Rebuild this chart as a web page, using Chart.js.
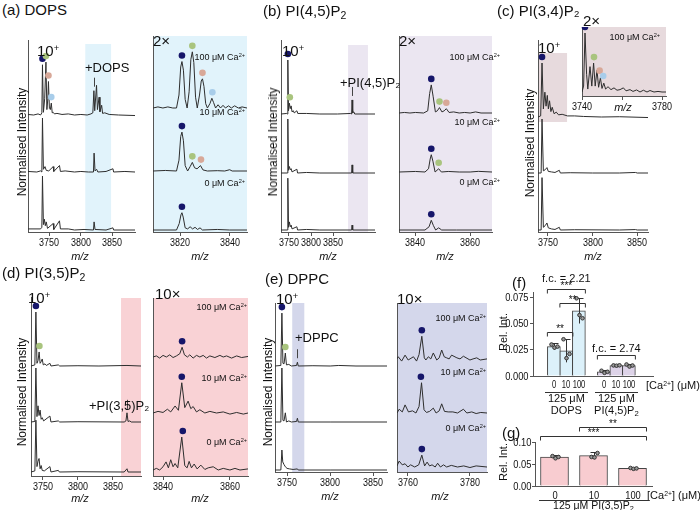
<!DOCTYPE html>
<html>
<head>
<meta charset="utf-8">
<script src="https://cdn.jsdelivr.net/npm/chart.js@4.4.0/dist/chart.umd.min.js"></script>
<style>
  body { margin: 0; background: #fff; }
  #fig { position: relative; width: 700px; height: 510px; overflow: hidden; font-family: "Liberation Sans", Arial, sans-serif; color: #111; }
  #fig canvas { position: absolute; }
  .t { position: absolute; white-space: nowrap; line-height: 1; }
  .t sup { font-size: 0.62em; vertical-align: 0.5em; line-height: 0; }
  .t sub { font-size: 0.7em; vertical-align: -0.3em; line-height: 0; }
  .it { font-style: italic; }
</style>
</head>
<body>
<div id="fig"></div>
<script>
// ---- spectra: [m/z, normalised intensity] ----
// (a) DOPS, full range
const aFull100 = [[3716,0.01],[3725,0],[3732,0.02],[3736,0],[3738,0.04],[3739,0.93],[3740.5,0.05],[3742.5,0.3],[3744.5,0.98],[3746,0.1],[3747.5,0.3],[3748.5,0.62],[3750,0.12],[3751.5,0.1],[3753,0.22],[3754.5,0.04],[3756,0.05],[3758,0.02],[3762,0.03],[3770,0.01],[3780,0.02],[3790,0],[3800,0.01],[3810,0],[3816,0.02],[3819,0.04],[3820.7,0.45],[3822,0.08],[3824.9,0.55],[3826.3,0.1],[3829,0.33],[3830.3,0.06],[3833,0.18],[3834.5,0.03],[3838,0.04],[3845,0.01],[3860,0],[3886,-0.01]];
const aFull10 = [[3716,0.01],[3730,0],[3736,0.02],[3738,0],[3739,1.0],[3740.5,0.05],[3743,0.1],[3745,0.03],[3749,0.02],[3756,0.1],[3757,0.01],[3766,0.12],[3767.5,0.01],[3775,0.02],[3790,0],[3800,0.01],[3812,0],[3820,0],[3821,0.35],[3822.5,0.02],[3825,0.05],[3827,0],[3840,0.01],[3851,0.06],[3852,0],[3870,0.01],[3886,0]];
const aFull0 = [[3716,0.02],[3736,0.02],[3738,0.05],[3739,1.0],[3740.5,0.1],[3742,0.2],[3743.5,0.08],[3745,0.15],[3747,0.03],[3756,0.12],[3757,0.01],[3766,0.17],[3767.5,0.02],[3780,0.02],[3790,0],[3805,0.01],[3820,0],[3821,0.15],[3822.5,0.01],[3840,0],[3851,0.04],[3852,0],[3886,0]];
// (a) DOPS, 2x zoom
const aZoom100 = [[3809,0],[3811,0.01],[3813,0],[3815,0.01],[3817,0],[3818.5,0],[3819.5,0.12],[3820.2,0.38],[3820.7,0.43],[3821.3,0.35],[3822,0.08],[3822.8,0],[3823.6,0.15],[3824.3,0.45],[3824.9,0.52],[3825.5,0.42],[3826.2,0.1],[3826.9,0],[3827.8,0.12],[3828.5,0.25],[3829,0.27],[3829.6,0.2],[3830.3,0.04],[3831,0],[3832,0.04],[3832.8,0.09],[3833.5,0.05],[3834.3,0],[3835.3,0.03],[3836.3,0],[3837.3,0.025],[3838.3,0],[3839.5,0.02],[3840.7,0],[3842,0.02],[3843.5,0],[3845,0.01],[3847,0]];
const aZoom10 = [[3809,0],[3814,0.005],[3818.5,0],[3819.5,0.1],[3820.2,0.32],[3820.7,0.36],[3821.3,0.28],[3822,0.05],[3823,0],[3824,0.04],[3824.9,0.08],[3825.8,0.03],[3826.8,0.02],[3828.2,0.05],[3829.2,0.01],[3831,0],[3835,0.003],[3838,0],[3840,0.012],[3841,0],[3847,0]];
const aZoom0 = [[3809,0],[3818.5,0],[3819.6,0.06],[3820.3,0.14],[3820.7,0.16],[3821.2,0.12],[3822,0.02],[3823,0.01],[3824,0.03],[3825,0.01],[3826,0.025],[3827,0.005],[3828,0.02],[3829,0],[3835,0.005],[3840,0],[3847,0]];
// (b) PI(4,5)P2
const bFull100 = [[3732,0],[3745,0.01],[3746.5,0],[3747.5,1.0],[3749,0.06],[3751,0.2],[3753,0.1],[3755,0.15],[3757,0.04],[3760,0.06],[3762,0.02],[3768,0.06],[3770,0.01],[3790,0.01],[3820,0],[3860,0],[3890,0.01],[3892,0],[3893,0.26],[3894.5,0.02],[3897,0.04],[3899,0],[3945,0]];
const bFull10 = [[3732,0],[3746.5,0],[3747.5,1.0],[3749,0.05],[3751,0.12],[3753,0.06],[3755,0.08],[3757,0.02],[3768,0.07],[3769.5,0],[3790,0.01],[3820,0],[3892,0],[3893,0.15],[3894.5,0],[3945,0]];
const bFull0 = [[3732,0],[3746.5,0],[3747.5,0.96],[3749,0.05],[3751,0.15],[3753,0.06],[3755,0.09],[3757,0.02],[3768,0.06],[3769.5,0],[3790,0.01],[3820,0],[3892,0],[3893,0.09],[3894.5,0],[3945,0]];
const bZoom100 = [[3834,0],[3836,0.005],[3838,0],[3840,0.005],[3843,0],[3844.5,0.02],[3845.2,0.18],[3845.8,0.26],[3846.5,0.15],[3847.3,0.01],[3848,0.02],[3848.8,0.05],[3849.7,0.01],[3850.5,0.02],[3851.3,0.04],[3852.3,0.005],[3854,0.01],[3856,0],[3858,0.005],[3860,0],[3862,0.01],[3864,0],[3868,0]];
const bZoom10 = [[3834,0],[3840,0.005],[3843.5,0],[3844.8,0.03],[3845.4,0.12],[3845.8,0.16],[3846.4,0.1],[3847.2,0],[3848.5,0.03],[3849.5,0],[3852,0.005],[3856,0],[3860,0],[3863,0.006],[3868,0]];
const bZoom0 = [[3834,0],[3843.5,0],[3845,0.03],[3845.8,0.09],[3846.6,0.04],[3847.4,0],[3848.5,0.02],[3849.6,0],[3855,0],[3868,0]];
// (c) PI(3,4)P2
const cFull100 = [[3739,0],[3742,0.02],[3743.5,1.0],[3745,0.15],[3746.7,0.46],[3748,0.2],[3749.4,0.4],[3750.6,0.15],[3751.9,0.3],[3753.4,0.1],[3754.9,0.18],[3757,0.06],[3759.4,0.09],[3762,0.04],[3766,0.05],[3772,0.02],[3780,0.02],[3790,0.01],[3810,0],[3830,0.005],[3862,-0.01]];
const cFull10 = [[3739,0],[3742.5,0],[3743.5,1.0],[3745,0.04],[3747,0.06],[3749,0.1],[3750.5,0.03],[3754,0.02],[3758,0.01],[3762.8,0.05],[3764,0],[3775,0.005],[3800,0],[3830,0],[3848,0.01],[3850,0],[3862,0]];
const cFull0 = [[3739,0],[3742.5,0],[3743.5,0.97],[3745,0.05],[3747,0.08],[3749,0.13],[3750.5,0.04],[3754,0.02],[3758,0.01],[3762.8,0.05],[3764,0],[3780,0.005],[3830,0],[3848,0.008],[3850,0],[3862,0]];
const cInset100 = [[3740,0],[3740.8,0.1],[3741.5,1.0],[3742.3,0.3],[3742.9,0.05],[3744,0.43],[3744.9,0.1],[3745.8,0.49],[3746.6,0.1],[3747.5,0.37],[3748.3,0.08],[3749.2,0.24],[3750,0.06],[3750.9,0.15],[3751.8,0.05],[3753,0.09],[3754.5,0.04],[3756,0.07],[3757.5,0.03],[3759,0.04],[3760.7,0.07],[3762,0.02],[3764,0.04],[3765.5,0.01],[3767.3,0.035],[3769,0],[3770.7,0.03],[3772.5,0],[3774,0.025],[3776,0],[3778,0.01],[3780,0],[3782,0]];
// (d) PI(3,5)P2
const dFull100 = [[3733,0],[3738.5,0.02],[3740,1.0],[3741.5,0.05],[3743,0.1],[3744.6,0.26],[3746,0.05],[3747.5,0.08],[3749,0.13],[3750.5,0.02],[3753,0.04],[3755,0.01],[3760,0.05],[3761.5,0],[3772,0.02],[3774,0],[3800,0.005],[3830,0],[3870,0.01],[3890,0]];
const dFull10 = [[3733,0],[3738.5,0.01],[3740,1.0],[3741.5,0.1],[3743,0.3],[3744.5,0.12],[3746,0.22],[3747.5,0.05],[3749,0.08],[3751,0.02],[3760,0.11],[3761.5,0],[3772,0.02],[3774,0],[3800,0.005],[3866,0],[3868.5,0.02],[3870,0.17],[3871.5,0.01],[3874,0.02],[3876,0],[3890,0]];
const dFull0 = [[3733,0],[3738.5,0.02],[3740,0.96],[3741.5,0.1],[3743,0.2],[3744.5,0.25],[3746,0.06],[3747.5,0.12],[3749,0.03],[3752,0.02],[3760,0.1],[3761.5,0],[3772,0.03],[3773.5,0],[3800,0.005],[3866,0],[3870,0.06],[3871.5,0],[3890,0]];
const dZoom100 = [[3837,0],[3838,0.002],[3839,-0.002],[3840,0.003],[3841,0],[3842,0.004],[3843,-0.001],[3844,0.002],[3845,0.006],[3845.7,0.018],[3846.4,0.004],[3847.3,0],[3848,0.004],[3849,-0.002],[3850,0.003],[3851,0],[3852,0.003],[3853,-0.002],[3854,0.002],[3855.5,-0.001],[3857,0.003],[3858,0],[3859,0.002],[3860.5,-0.002],[3862,0.002],[3863.5,-0.001],[3865.4,0.001]];
const dZoom10 = [[3837,0],[3838.5,0.003],[3840,0.001],[3841.3,0.007],[3842.3,0.002],[3843.6,0.013],[3844.6,0.005],[3845.6,0.056],[3846.5,0.01],[3847.5,0.022],[3848.3,0.008],[3849,0.012],[3850,0.002],[3851,0.006],[3852.5,0],[3854,0.003],[3856,0],[3858,0.002],[3860,-0.002],[3862,0.001],[3864,-0.002],[3865.4,0]];
const dZoom0 = [[3837,0],[3838,0.003],[3839,0],[3840,0.006],[3840.9,0.015],[3841.6,0.004],[3842.3,0.019],[3843,0.006],[3843.6,0.012],[3844.4,0.004],[3845.6,0.061],[3846.5,0.008],[3847.2,0.004],[3847.8,0.016],[3848.5,0.004],[3849.3,0.011],[3850.2,0.002],[3851.3,0.009],[3852.5,0.001],[3853.5,0.004],[3855,0.006],[3856.5,0],[3858,0.003],[3860,0],[3861.5,0.003],[3863,0],[3865.4,0.002]];
// (e) DPPC
const eFull100 = [[3736,0],[3742.8,0.01],[3744,0.98],[3745.2,0.05],[3746.5,0.04],[3748,0.24],[3749.3,0.02],[3752,0.03],[3755,0],[3761,0.01],[3762,0.07],[3763,0],[3780,0.005],[3800,0],[3810,0.01],[3830,0],[3866,0]];
const eFull10 = [[3736,0],[3742.8,0],[3744,1.0],[3745.2,0.03],[3746.5,0.02],[3748,0.17],[3749.3,0],[3752,0.02],[3755,0],[3761,0.01],[3762,0.07],[3763,0],[3800,0],[3866,0]];
const eFull0 = [[3736,0],[3742.8,0],[3744,0.37],[3745,0.15],[3746.5,0.1],[3748,0.06],[3750,0.03],[3753,0.02],[3757,0.01],[3762,0.02],[3763,0],[3800,0],[3866,0]];
const eZoom100 = [[3756.5,0.002],[3756.9,0.006],[3758,-0.002],[3759.1,0.009],[3760.1,0],[3761.8,0.006],[3762.8,-0.002],[3763.6,0.01],[3764.5,0.044],[3765.3,0.004],[3765.8,0],[3766.6,0.006],[3767.4,0.002],[3768.2,0.013],[3769.3,0],[3770.1,0.004],[3770.9,0.0185],[3771.7,0.006],[3772.5,0.004],[3773.3,0.002],[3774.1,0.009],[3775.8,0.004],[3776.8,0.002],[3777.9,0.007],[3780,0],[3781,0.002],[3782.2,0.004],[3783.3,0],[3785.5,0.002]];
const eZoom10 = [[3756.5,0],[3757.2,0.007],[3758.2,0.002],[3759.1,0.015],[3760.2,0.002],[3761.5,0.004],[3762.6,0],[3763.6,0.012],[3764.4,0.056],[3765.2,0.006],[3766,0.001],[3767,0.003],[3768.2,0.009],[3769.1,0],[3770.1,0.004],[3770.9,0.017],[3771.8,0.003],[3773,0.002],[3774.5,0.002],[3776,0],[3777.9,0.007],[3779,0],[3780.6,0.002],[3782,-0.001],[3783.5,0.001],[3785.5,0]];
const eZoom0 = [[3756.5,0.002],[3757.2,0.011],[3758.2,0.004],[3759.1,0.006],[3760,0],[3760.9,0.004],[3762.2,0],[3763.5,0.004],[3764.5,0.022],[3765.4,0.002],[3766.2,0.009],[3767,0.002],[3767.8,0.004],[3768.8,0],[3769.6,0.007],[3770.5,0],[3771.5,0.004],[3772.5,0],[3774,0.003],[3776,0],[3778,0.002],[3780,-0.001],[3782,0.002],[3785.5,0]];

// bound species marked by dots: [trace, m/z, peak level, species]
const aFullDots = [[0,3739,0.93,'n'],[0,3744.5,0.98,'g'],[0,3748.5,0.62,'p'],[0,3753,0.22,'b']];
const aZoomDots = [[0,3820.7,0.43,'n'],[0,3824.9,0.52,'g'],[0,3829,0.27,'p'],[0,3833,0.09,'b'],[1,3820.7,0.36,'n'],[1,3824.9,0.08,'g'],[1,3828.4,0.05,'p'],[2,3820.7,0.16,'n']];
const bFullDots = [[0,3747.5,1.0,'n'],[0,3752,0.2,'g']];
const bZoomDots = [[0,3845.8,0.26,'n'],[0,3848.8,0.05,'g'],[0,3851.3,0.04,'p'],[1,3845.8,0.16,'n'],[1,3848.5,0.03,'g'],[2,3845.8,0.09,'n']];
const cFullDots = [[0,3743.5,1.0,'n']];
const cInsetDots = [[0,3741.5,1.0,'n'],[0,3746,0.49,'g'],[0,3748.8,0.26,'p'],[0,3750.6,0.17,'b']];
const dFullDots = [[0,3740,1.0,'n'],[0,3745,0.26,'g']];
const dZoomDots = [[0,3845.7,0.018,'n'],[1,3845.6,0.056,'n'],[2,3845.9,0.061,'n']];
const eFullDots = [[0,3744,0.98,'n'],[0,3748,0.24,'g']];
const eZoomDots = [[0,3764.5,0.044,'n'],[1,3764.2,0.056,'n'],[2,3764.5,0.022,'n']];
// lipid adduct markers: [trace, m/z, peak level]
const aMark = [[0,3820.7,0.45]];
const bMark = [[0,3893,0.26]];
const dMark = [[1,3870,0.17]];
const eMark = [[0,3762,0.07]];

// (f) relative intensity, 125 uM DOPS and PI(4,5)P2
const fCats = ['0','10','100','','0','10','100'];
const fMean = [0.028,0.024,0.062,null,0.004,0.010,0.010];
const fSd = [0.003,0.011,0.012,null,0.0015,0.0005,0.0015];
const fPts = [[0.030,0.027,0.028],[0.035,0.017,0.021],[0.074,0.058,0.055],[],[0.005,0.003,0.004],[0.0101,0.0098,0.0102],[0.011,0.009,0.010]];
const fSig = [[0,2,0.0826,'***'],[1,2,0.0693,'**'],[0,1,0.0418,'**'],[4,6,0.020,'']];
const fYTicks = [0,0.025,0.05,0.075];
// (g) relative intensity, 125 uM PI(3,5)P2
const gCats = ['0','10','100'];
const gMean = [0.066,0.069,0.040];
const gSd = [0.004,0.008,0.002];
const gPts = [[0.068,0.063,0.066],[0.066,0.065,0.075],[0.041,0.039,0.040]];
const gSig = [[0,2,0.114,'***'],[1,2,0.134,'**']];
const gYTicks = [0,0.05,0.10];

const FONT = '"Liberation Sans", Arial, sans-serif';
const AXIS = '#555';
const TRACE = '#2e2e2e';
const CLEAR = 'rgba(0,0,0,0)';
const dotColors = { n: '#16166a', g: '#a9c47e', p: '#d8a898', b: '#a8cdea' };
Chart.defaults.font.family = FONT;
Chart.defaults.color = '#222';

const fig = document.getElementById('fig');

// align: l (left at x), r (right end at x), c (centred), v (rotated, centred); y is the centre line
function addText(html, x, y, size, align, cls, sx) {
  const el = document.createElement('div');
  el.className = 't' + (cls ? ' ' + cls : '');
  el.innerHTML = html;
  el.style.fontSize = size + 'px';
  const sc = sx ? ` scaleX(${sx})` : '';
  if (align === 'v') {
    el.style.left = x + 'px';
    el.style.top = y + 'px';
    el.style.transform = 'translate(-50%,-50%) rotate(-90deg)';
  } else {
    el.style.top = (y - size / 2) + 'px';
    if (align === 'r') {
      el.style.right = (700 - x) + 'px';
      el.style.transformOrigin = 'right center';
      if (sc) el.style.transform = sc;
    } else {
      el.style.left = x + 'px';
      if (align === 'c') el.style.transform = 'translateX(-50%)' + sc;
      else if (sc) { el.style.transformOrigin = 'left center'; el.style.transform = sc; }
    }
  }
  fig.appendChild(el);
  return el;
}

function hline(x0, x1, y) {
  const ln = document.createElement('div');
  ln.style.cssText = `position:absolute;left:${x0}px;top:${y}px;width:${x1 - x0}px;height:1px;background:#333`;
  fig.appendChild(ln);
}

function makeCanvas(left, top, w, h) {
  const cv = document.createElement('canvas');
  cv.width = w;
  cv.height = h;
  cv.style.left = left + 'px';
  cv.style.top = top + 'px';
  fig.appendChild(cv);
  return cv;
}

// one stacked-spectrum panel
function spectrum(p) {
  const padL = 18, padR = 18, padB = 24;
  const ox = p.left - padL;
  const cv = makeCanvas(ox, p.top, p.width + padL + padR, p.height + padB);
  const yOf = (i, v) => v + p.base[i] / p.unit;
  const datasets = p.traces.map((tr, i) => ({
    data: tr.map(d => ({ x: d[0], y: yOf(i, d[1]) })),
    borderColor: TRACE,
    borderWidth: 1,
    pointRadius: 0,
    tension: 0
  }));

  const decor = {
    id: 'decor',
    beforeDraw(chart) {
      const { ctx, chartArea: a, scales: { x } } = chart;
      ctx.save();
      if (p.bg) {
        ctx.fillStyle = p.bg;
        ctx.fillRect(a.left, a.top, a.right - a.left, a.bottom - a.top);
      }
      if (p.band) {
        const x0 = x.getPixelForValue(p.band[0]);
        const x1 = x.getPixelForValue(p.band[1]);
        const top = p.bandPx ? a.bottom - p.bandPx[1] : a.top + (p.bandTop || 0);
        const bot = p.bandPx ? a.bottom - p.bandPx[0] : a.bottom;
        ctx.fillStyle = p.bandColor;
        ctx.fillRect(x0, top, x1 - x0, bot - top);
      }
      ctx.restore();
    },
    afterDatasetsDraw(chart) {
      const { ctx, scales: { x, y } } = chart;
      ctx.save();
      (p.dots || []).forEach(d => {
        const px = x.getPixelForValue(d[1]);
        const py = y.getPixelForValue(yOf(d[0], d[2])) - 6;
        ctx.beginPath();
        ctx.arc(px, py, 3.3, 0, Math.PI * 2);
        ctx.fillStyle = dotColors[d[3]];
        ctx.fill();
      });
      (p.marks || []).forEach(m => {
        const px = Math.round(x.getPixelForValue(m[1])) + 0.5;
        const py = y.getPixelForValue(yOf(m[0], m[2]));
        ctx.beginPath();
        ctx.moveTo(px, py - 4);
        ctx.lineTo(px, py - 13);
        ctx.strokeStyle = '#444';
        ctx.lineWidth = 1;
        ctx.stroke();
      });
      ctx.restore();
    }
  };

  const chart = new Chart(cv, {
    type: 'line',
    data: { datasets },
    options: {
      responsive: false,
      animation: false,
      events: [],
      layout: { padding: { left: padL, right: padR, top: 0, bottom: 0 } },
      plugins: { legend: { display: false }, tooltip: { enabled: false } },
      scales: {
        x: {
          type: 'linear',
          min: p.xmin,
          max: p.xmax,
          afterBuildTicks: s => { s.ticks = p.ticks.map(v => ({ value: v })); },
          afterFit: s => { s.height = padB; },
          grid: { display: true, drawOnChartArea: false, tickLength: 4, color: AXIS },
          border: { color: AXIS },
          ticks: { color: CLEAR, font: { size: 11 }, maxRotation: 0, autoSkip: false, callback: v => String(v) }
        },
        y: {
          min: 0,
          max: p.height / p.unit,
          afterFit: s => { s.width = 0; },
          ticks: { display: false },
          grid: { display: false },
          border: { color: AXIS }
        }
      }
    },
    plugins: [decor]
  });
  // tick labels as html text, at the positions given by the x scale
  const xs = chart.scales.x;
  xs.ticks.forEach(t => {
    if (p.hideTicks && p.hideTicks.includes(t.value)) return;
    addText(String(t.value), ox + xs.getPixelForValue(t.value), p.top + p.height + 11, 11.5, 'c', '', 0.78);
  });
  return chart;
}

// ---------- top row ----------
spectrum({ left: 28, top: 40, width: 107, height: 192, xmin: 3716, xmax: 3886, ticks: [3750, 3800, 3850],
  unit: 54, base: [117, 60, 2], traces: [aFull100, aFull10, aFull0], dots: aFullDots, marks: aMark,
  band: [3807, 3848], bandTop: 4, bandColor: '#e1f3fb' });
spectrum({ left: 153, top: 36, width: 94, height: 196, xmin: 3809, xmax: 3847, ticks: [3820, 3840],
  unit: 108, base: [124, 61, 2], traces: [aZoom100, aZoom10, aZoom0], dots: aZoomDots, bg: '#e1f3fb' });

spectrum({ left: 281, top: 40, width: 94, height: 192, xmin: 3732, xmax: 3945, ticks: [3750, 3800, 3850],
  unit: 54, base: [118, 59, 2], traces: [bFull100, bFull10, bFull0], dots: bFullDots, marks: bMark,
  band: [3884, 3929], bandTop: 5, bandColor: '#ebe6f1' });
spectrum({ left: 399, top: 36, width: 93, height: 196, xmin: 3834, xmax: 3868, ticks: [3840, 3860],
  unit: 108, base: [119, 60, 2], traces: [bZoom100, bZoom10, bZoom0], dots: bZoomDots, bg: '#ebe6f1' });

spectrum({ left: 538, top: 40, width: 110, height: 192, xmin: 3739, xmax: 3862, ticks: [3750, 3800, 3850],
  unit: 54, base: [115, 59, 2], traces: [cFull100, cFull10, cFull0], dots: cFullDots,
  band: [3739, 3771.5], bandPx: [110, 179], bandColor: '#e7dadd' });
spectrum({ left: 582, top: 27, width: 84, height: 69, xmin: 3740, xmax: 3782, ticks: [3740, 3760, 3780], hideTicks: [3760],
  unit: 59, base: [4], traces: [cInset100], dots: cInsetDots, bg: '#e7dadd' });

// ---------- bottom row ----------
spectrum({ left: 31, top: 297, width: 110, height: 179, xmin: 3733, xmax: 3890, ticks: [3750, 3800, 3850],
  unit: 54, base: [110, 54, 4], traces: [dFull100, dFull10, dFull0], dots: dFullDots, marks: dMark,
  band: [3861.5, 3890], bandTop: 1, bandColor: '#f9d2d5' });
spectrum({ left: 153, top: 298, width: 95, height: 178, xmin: 3837, xmax: 3865.4, ticks: [3840, 3860],
  unit: 540, base: [119, 63, 6], traces: [dZoom100, dZoom10, dZoom0], dots: dZoomDots, bg: '#f9d2d5' });

spectrum({ left: 275, top: 303, width: 112, height: 169, xmin: 3736, xmax: 3866, ticks: [3750, 3800, 3850],
  unit: 54, base: [106, 50, 2], traces: [eFull100, eFull10, eFull0], dots: eFullDots, marks: eMark,
  band: [3756, 3770], bandTop: 0, bandColor: '#d4d7eb' });
spectrum({ left: 397, top: 303, width: 90, height: 169, xmin: 3756.5, xmax: 3785.5, ticks: [3760, 3780],
  unit: 540, base: [112, 59, 5], traces: [eZoom100, eZoom10, eZoom0], dots: eZoomDots, bg: '#d4d7eb' });

// ---------- bar panels ----------
function barPanel(q) {
  const yW = 40, padT = 24, padR = 6;
  const ox = q.left - yW, oy = q.top - padT;
  const cv = makeCanvas(ox, oy, yW + q.width + padR, padT + q.height + q.xH);
  const linear = !!q.linear;
  const data = q.mean.map((v, i) => linear ? { x: i, y: v } : v);
  const deco = {
    id: 'errs',
    afterDatasetsDraw(chart) {
      const { ctx, scales: { x, y } } = chart;
      ctx.save();
      ctx.strokeStyle = '#333';
      ctx.lineWidth = 1;
      q.mean.forEach((m, i) => {
        if (m == null) return;
        const cx = Math.round(x.getPixelForValue(i)) + 0.5;
        const yt = y.getPixelForValue(m + q.sd[i]);
        const yb = y.getPixelForValue(m - q.sd[i]);
        ctx.beginPath();
        ctx.moveTo(cx, yb); ctx.lineTo(cx, yt);
        ctx.moveTo(cx - 4, Math.round(yt) + 0.5); ctx.lineTo(cx + 4, Math.round(yt) + 0.5);
        ctx.stroke();
        q.pts[i].forEach((v, j) => {
          ctx.beginPath();
          ctx.arc(cx + (j - 1) * 3, y.getPixelForValue(v), 1.8, 0, Math.PI * 2);
          ctx.fillStyle = '#999';
          ctx.fill();
          ctx.stroke();
        });
      });
      q.sig.forEach(s => {
        const x0 = x.getPixelForValue(s[0]) - q.bw / 2, x1 = x.getPixelForValue(s[1]) + q.bw / 2;
        const yy = Math.round(y.getPixelForValue(s[2])) + 0.5;
        ctx.beginPath();
        ctx.moveTo(x0, yy + 4); ctx.lineTo(x0, yy); ctx.lineTo(x1, yy); ctx.lineTo(x1, yy + 4);
        ctx.stroke();
      });
      ctx.restore();
    }
  };
  const chart = new Chart(cv, {
    type: 'bar',
    data: {
      labels: linear ? undefined : q.cats,
      datasets: [{
        data,
        backgroundColor: q.colors,
        borderColor: '#444',
        borderWidth: 1,
        barThickness: q.bw
      }]
    },
    options: {
      responsive: false,
      animation: false,
      events: [],
      layout: { padding: { left: 0, right: padR, top: padT, bottom: 0 } },
      plugins: { legend: { display: false }, tooltip: { enabled: false } },
      scales: {
        x: linear ? {
          type: 'linear', min: q.xmin, max: q.xmax,
          afterBuildTicks: s => { s.ticks = q.cats.map((c, i) => ({ value: i })).filter(t => q.cats[t.value] !== ''); },
          afterFit: s => { s.height = q.xH; },
          grid: { display: false },
          border: { color: AXIS },
          ticks: { color: CLEAR, maxRotation: 0, autoSkip: false, callback: v => q.cats[v] }
        } : {
          afterFit: s => { s.height = q.xH; },
          grid: { display: false },
          border: { color: AXIS },
          ticks: { color: CLEAR, maxRotation: 0 }
        },
        y: {
          min: 0, max: q.ymax,
          afterBuildTicks: s => { s.ticks = q.yTicks.map(v => ({ value: v })); },
          afterFit: s => { s.width = yW; },
          grid: { display: true, drawOnChartArea: false, tickLength: 3, color: AXIS },
          border: { color: AXIS },
          ticks: { color: CLEAR, callback: v => v.toFixed(q.dec) }
        }
      }
    },
    plugins: [deco]
  });
  const x = chart.scales.x, y = chart.scales.y;
  // tick labels and significance marks as html text, placed from the chart's scales
  x.ticks.forEach(t => {
    addText(q.cats[t.value], ox + x.getPixelForValue(t.value), q.top + q.height + 9, q.xFont, 'c', '', q.xScale);
  });
  y.ticks.forEach(t => {
    addText(t.value.toFixed(q.dec), q.left - 4, oy + y.getPixelForValue(t.value), 11, 'r', '', 0.85);
  });
  q.sig.forEach(s => {
    if (!s[3]) return;
    const cx = ox + (x.getPixelForValue(s[0]) + x.getPixelForValue(s[1])) / 2;
    addText(s[3], cx, oy + y.getPixelForValue(s[2]) - 3, 10, 'c');
  });
  return { chart, px: i => ox + x.getPixelForValue(i), py: v => oy + y.getPixelForValue(v) };
}

const fColors = ['#dcf1fa', '#dcf1fa', '#dcf1fa', '#fff', '#ddd3e8', '#ddd3e8', '#ddd3e8'];
const F = barPanel({ left: 533, top: 292, width: 120, height: 84, xH: 18, linear: true, xmin: -0.87, xmax: 7.13, xFont: 10, xScale: 0.76,
  cats: fCats, mean: fMean, sd: fSd, pts: fPts, sig: fSig, colors: fColors, bw: 13, ymax: 0.08, yTicks: fYTicks, dec: 3 });
const G = barPanel({ left: 535, top: 442, width: 117, height: 44, xH: 18, xFont: 11, xScale: 0.85,
  cats: gCats, mean: gMean, sd: gSd, pts: gPts, sig: gSig, colors: '#f8ccd0', bw: 28, ymax: 0.10, yTicks: gYTicks, dec: 2 });

// ---------- text ----------
const S = 15, L = 9;
// (a)
addText('(a) DOPS', 2, 9, S);
addText('10<sup>+</sup>', 37, 50, S);
addText('2×', 153, 40, S);
addText('Normalised Intensity', 22, 142, 12, 'v');
addText('+DOPS', 85, 67, 13);
addText('100 μM Ca<sup>2+</sup>', 245, 57, L, 'r');
addText('10 μM Ca<sup>2+</sup>', 245, 112, L, 'r');
addText('0 μM Ca<sup>2+</sup>', 245, 183, L, 'r');
addText('m/z', 80, 256, 11, 'c', 'it');
addText('m/z', 200, 256, 11, 'c', 'it');
// (b)
addText('(b) PI(4,5)P<sub>2</sub>', 263, 10, S);
addText('10<sup>+</sup>', 282, 50, S);
addText('2×', 399, 40, S);
addText('Normalised Intensity', 273, 142, 12, 'v');
addText('+PI(4,5)P₂', 340, 82, 13);
addText('100 μM Ca<sup>2+</sup>', 500, 57, L, 'r');
addText('10 μM Ca<sup>2+</sup>', 500, 122, L, 'r');
addText('0 μM Ca<sup>2+</sup>', 500, 182, L, 'r');
addText('m/z', 328, 256, 11, 'c', 'it');
addText('m/z', 445, 256, 11, 'c', 'it');
// (c)
addText('(c) PI(3,4)P₂', 497, 10, S);
addText('2×', 583, 20, S);
addText('10<sup>+</sup>', 538, 47, S);
addText('Normalised Intensity', 530, 143, 12, 'v');
addText('100 μM Ca<sup>2+</sup>', 660, 37, L, 'r');
addText('m/z', 623, 107, 11, 'c', 'it');
addText('m/z', 593, 256, 11, 'c', 'it');
// (d)
addText('(d) PI(3,5)P<sub>2</sub>', 2, 272, S);
addText('10<sup>+</sup>', 28, 297, S);
addText('10×', 155, 293, S);
addText('Normalised Intensity', 22, 392, 12, 'v');
addText('+PI(3,5)P₂', 89, 405, 13);
addText('100 μM Ca<sup>2+</sup>', 247, 307, L, 'r');
addText('10 μM Ca<sup>2+</sup>', 247, 378, L, 'r');
addText('0 μM Ca<sup>2+</sup>', 247, 442, L, 'r');
addText('m/z', 80, 498, 11, 'c', 'it');
addText('m/z', 200, 498, 11, 'c', 'it');
// (e)
addText('(e) DPPC', 265, 278, S);
addText('10<sup>+</sup>', 276, 298, S);
addText('10×', 397, 298, S);
addText('Normalised Intensity', 268, 392, 12, 'v');
addText('+DPPC', 295, 337, 13);
addText('100 μM Ca<sup>2+</sup>', 486, 318, L, 'r');
addText('10 μM Ca<sup>2+</sup>', 486, 372, L, 'r');
addText('0 μM Ca<sup>2+</sup>', 486, 428, L, 'r');
addText('m/z', 330, 496, 11, 'c', 'it');
addText('m/z', 440, 496, 11, 'c', 'it');
// (f)
addText('(f)', 512, 282, S);
addText('Rel. Int.', 503, 332, 11, 'v');
addText('f.c. = 2.21', F.px(1), F.py(0.0826) - 11, 11, 'c');
addText('f.c. = 2.74', F.px(5), F.py(0.020) - 7, 11, 'c');
addText('[Ca<sup>2+</sup>] (μM)', 646, 385, 11);
[[0, 2, '125 μM', 'DOPS'], [4, 6, '125 μM', 'PI(4,5)P<sub>2</sub>']].forEach(gp => {
  const x0 = F.px(gp[0]) - 9, x1 = F.px(gp[1]) + 9;
  hline(x0, x1, 392);
  addText(gp[2], (x0 + x1) / 2, 398, 11, 'c');
  addText(gp[3], (x0 + x1) / 2, 410, 11, 'c');
});
// (g)
addText('(g)', 502, 432, S);
addText('Rel. Int.', 503, 462, 11, 'v');
addText('[Ca<sup>2+</sup>] (μM)', 647, 495, 11);
(() => {
  const x0 = G.px(0) - 16, x1 = G.px(2) + 16;
  hline(x0, x1, 500);
  addText('125 μM PI(3,5)P<sub>2</sub>', (x0 + x1) / 2, 505, 10.5, 'c');
})();
</script>
</body>
</html>
